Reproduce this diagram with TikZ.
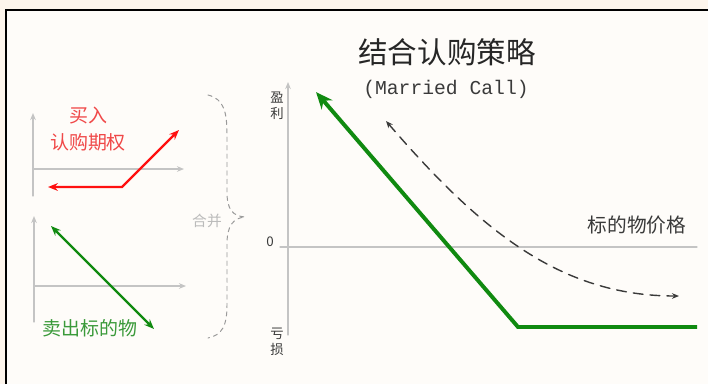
\documentclass[tikz,border=0pt]{standalone}
\usepackage{fontspec}
\setmainfont{Noto Sans CJK SC}
\setmonofont{Liberation Mono}
\usetikzlibrary{arrows.meta}
\definecolor{outbg}{HTML}{FDF5EC}
\definecolor{inbg}{HTML}{FEFCF9}
\definecolor{axgray}{HTML}{C4C4C4}
\definecolor{bracegray}{HTML}{9A9A9A}
\definecolor{mergegray}{HTML}{BBBBBB}
\definecolor{callred}{HTML}{FF1010}
\definecolor{callredtxt}{HTML}{F04848}
\definecolor{stockgreen}{HTML}{108A10}
\definecolor{stockgreentxt}{HTML}{3A9A3A}
\definecolor{darktxt}{HTML}{3A3A3A}
\tikzset{
  axis/.style={draw=axgray,line width=0.9pt,-{Stealth[length=5pt,width=4pt]}},
  payoff/.style={line width=1.7pt,-{Stealth[length=7pt,width=5.5pt]}},
  smalltxt/.style={font=\fontsize{9.5}{11.5}\selectfont,text=darktxt,align=center,inner sep=0pt}
}
\begin{document}
\begin{tikzpicture}[cap=round,x=0.025cm,y=-0.025cm]
\useasboundingbox (0,0) rectangle (708,384);
\fill[outbg] (0,0) rectangle (708,384);
\fill[inbg] (6,10) rectangle (708,384);
\draw[black,line width=1.3pt,cap=butt] (6,384) -- (6,10) -- (708,10);
% buy call
\coordinate (ca0) at (33,196);
\coordinate (ca1) at (33,113);
\coordinate (cb0) at (33,169);
\coordinate (cb1) at (184,169);
\draw[axis] (ca0) -- (ca1);
\draw[axis] (cb0) -- (cb1);
\coordinate (cl) at (48,187);
\coordinate (ck) at (122,187);
\coordinate (cr) at (179,130);
\draw[payoff,draw=callred,{Stealth[length=7pt,width=5.5pt]}-{Stealth[length=7pt,width=5.5pt]}] (cl) -- (ck) -- (cr);
\node[text=callredtxt,font=\fontsize{13.5}{14}\selectfont] (buy) at (88,115) {买入};
\node[text=callredtxt,font=\fontsize{13.5}{14}\selectfont] (call) at (88,142) {认购期权};
% sell stock
\coordinate (sa0) at (34,322);
\coordinate (sa1) at (34,216);
\coordinate (sb0) at (34,286);
\coordinate (sb1) at (186,286);
\draw[axis] (sa0) -- (sa1);
\draw[axis] (sb0) -- (sb1);
\coordinate (su) at (51,226);
\coordinate (sd) at (154,329);
\draw[payoff,draw=stockgreen,{Stealth[length=7pt,width=5.5pt]}-{Stealth[length=7pt,width=5.5pt]}] (su) -- (sd);
\node[text=stockgreentxt,font=\fontsize{13.5}{14}\selectfont] (sell) at (90,328) {卖出标的物};
% brace
\draw[bracegray,dashed,line width=0.7pt] (208,95) .. controls (224,99) and (227,112) .. (227,135) -- (227,192)
  .. controls (227,210) and (233,216) .. (245,217) .. controls (233,218) and (227,226) .. (227,244)
  -- (227,305) .. controls (227,326) and (222,335) .. (208,338);
\node[text=mergegray,font=\fontsize{10.5}{11}\selectfont] (merge) at (207,221) {合并};
% married call
\node[text=black!85,font=\fontsize{21}{22}\selectfont] (title) at (447,52) {结合认购策略};
\node[text=darktxt,font=\ttfamily\fontsize{14}{15}\selectfont] (sub) at (446,89) {(Married Call)};
\coordinate (ya) at (288,335);
\coordinate (yb) at (288,82);
\coordinate (xa) at (280,247);
\coordinate (xb) at (697,247);
\draw[axis] (ya) -- (yb);
\draw[draw=axgray,line width=0.9pt] (xa) -- (xb);
\node[smalltxt] (gain) at (277,106) {盈\\利};
\node[smalltxt] (loss) at (277,342) {亏\\损};
\node[smalltxt] (zero) at (270,242) {0};
\node[text=darktxt,font=\fontsize{14}{15}\selectfont] (price) at (637,225) {标的物价格};
\coordinate (gr) at (697,327);
\coordinate (gk) at (518,327);
\coordinate (gl) at (316,92);
\draw[stockgreen,line width=2.8pt,cap=butt,-{Stealth[length=12pt,width=10pt]}] (gr) -- (gk) -- (gl);
\coordinate (da) at (386,121);
\coordinate (db) at (679,296);
\draw[darktxt,line width=1pt,dash pattern=on 7pt off 5pt,{Stealth[length=5pt,width=4pt]}-{Stealth[length=5pt,width=4pt]}]
  (da) .. controls (480,230) and (560,296) .. (db);
\end{tikzpicture}
\end{document}
